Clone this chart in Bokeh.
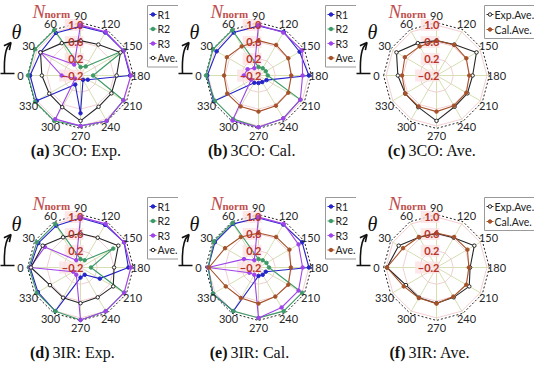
import math
from bokeh.plotting import figure
from bokeh.layouts import gridplot
from bokeh.models import Range1d, Arrow, OpenHead
from bokeh.core.properties import value
from bokeh.embed import file_html
from bokeh.resources import INLINE

# ---------------- data ----------------
angles = [0, 30, 60, 90, 120, 150, 180, 210, 240, 270, 300, 330]
radial_ticks = [-0.2, 0.2, 0.6, 1.0]
r_min = -0.2
r_outer = 1.06

# (a) 3CO experiment
co_exp_r1 = [1.00, 0.90, 0.97, 0.97, 0.98, 0.98, 0.98, 0.00, -0.08, 0.70, 0.05, 1.00]
co_exp_r2 = [1.05, 1.05, 1.05, 0.00, 0.05, 1.00, 0.10, 0.98, 1.05, 1.00, 1.05, 1.05]
co_exp_r3 = [0.25, 0.90, 0.10, 1.00, 1.00, 0.98, 1.00, 0.98, 1.05, 1.00, 1.00, -0.05]
co_exp_ave = [0.72, 0.90, 0.69, 0.63, 0.65, 0.90, 0.66, 0.65, 0.66, 0.88, 0.67, 0.66]
# (b) 3CO calculation
co_cal_r1 = [1.02, 0.95, 0.98, 0.98, 1.00, 0.93, 1.00, 0.02, -0.02, -0.02, 0.00, 1.03]
co_cal_r2 = [1.05, 1.05, 1.05, 0.00, 0.00, 0.00, 0.02, 0.95, 0.98, 1.03, 1.00, 1.00]
co_cal_r3 = [0.15, 0.10, 0.00, 1.00, 0.98, 1.00, 0.85, 0.95, 0.98, 1.03, 1.04, 0.00]
co_cal_ave = [0.62, 0.67, 0.60, 0.63, 0.64, 0.62, 0.58, 0.62, 0.63, 0.66, 0.65, 0.66]
# (d) 3IR experiment
ir_exp_r1 = [1.00, 0.96, 0.95, 0.98, 0.97, 1.00, 0.94, 0.33, 0.00, 0.04, 1.00, 0.97]
ir_exp_r2 = [1.03, 1.00, 1.00, 0.00, 0.00, 0.70, 0.05, 1.00, 1.00, 1.05, 1.00, 1.00]
ir_exp_r3 = [1.00, 0.78, 0.00, 1.00, 1.00, 1.00, 1.00, 1.00, 1.00, 1.05, 0.00, 0.00]
ir_exp_ave = [0.98, 0.84, 0.63, 0.61, 0.62, 0.84, 0.60, 0.70, 0.62, 0.65, 0.63, 0.64]
# (e) 3IR calculation
ir_cal_r1 = [1.00, 1.00, 1.00, 0.98, 0.98, 1.00, 1.00, 0.00, 0.00, 0.00, 1.00, 1.05]
ir_cal_r2 = [1.00, 1.03, 1.03, 0.00, 0.00, 0.02, 0.05, 1.00, 1.00, 1.00, 1.00, 1.05]
ir_cal_r3 = [1.00, 0.20, 0.00, 1.00, 1.00, 0.90, 0.85, 0.90, 0.90, 1.00, 0.00, 0.05]
ir_cal_ave = [0.98, 0.72, 0.64, 0.62, 0.64, 0.65, 0.57, 0.62, 0.60, 0.66, 0.64, 0.70]

# ---------------- style ----------------
K = 42.0  # pixels per radial unit
C_R1, C_R2, C_R3 = "#2424c8", "#3d9a66", "#a044ea"
C_EXP, C_CAL = "#262626", "#a5522a"
C_LAB = "#b8352a"
C_N = "#c0504d"
SANS = "Lato"
SERIF = "Liberation Serif"


def px(v):
    return v / K


def polar(vals, closed=True):
    xs, ys = [], []
    for v, t in zip(vals, angles):
        rho = v - r_min
        phi = math.radians(180 - t)
        xs.append(rho * math.cos(phi))
        ys.append(rho * math.sin(phi))
    if closed:
        xs.append(xs[0]); ys.append(ys[0])
    return xs, ys


def make_panel(height, top, series, legend_names, tag, caption, cap_dy):
    p = figure(width=178, height=height,
               x_range=Range1d(px(-80), px(98)),
               y_range=Range1d(px(-(height - top)), px(top)),
               output_backend="svg", toolbar_location=None,
               x_axis_location=None, y_axis_location=None, min_border=0)
    p.grid.visible = False
    p.outline_line_color = None
    p.background_fill_color = "white"

    # grid: spokes, rings, dashed outer
    for t in angles:
        phi = math.radians(180 - t)
        rr = r_outer - r_min
        p.line([0, rr * math.cos(phi)], [0, rr * math.sin(phi)],
               line_color="#d6dfb2", line_width=1)
    for tv in radial_ticks[1:]:
        xs, ys = polar([tv] * 12)
        p.line(xs, ys, line_color="#f2cfd2", line_width=1)
    xs, ys = polar([r_outer] * 12)
    p.line(xs, ys, line_color="#222222", line_width=1, line_dash="2 2")

    # label highlight boxes (under series)
    for tv in radial_ticks:
        lab = "%.1f" % tv
        w = 5.6 * len(lab) + 2
        p.rect(x=px(3 - w / 2), y=tv - r_min, width=px(w), height=px(12),
               fill_color="#fbe1e4", line_color=None, fill_alpha=0.8)

    # series
    for vals, color, filled in series:
        xs, ys = polar(vals)
        p.line(xs, ys, line_color=color, line_width=1.1)
        p.scatter(xs[:-1], ys[:-1], marker="circle", size=3.5,
                  line_color=color, fill_color=color if filled else "white",
                  line_width=1)

    # radial tick labels (on top)
    for tv in radial_ticks:
        lab = "%.1f" % tv
        p.text(x=[px(3)], y=[tv - r_min], text=[lab.replace("-", "\u2212")],
               text_align="right", text_baseline="middle",
               text_font=value(SANS), text_font_size="11px",
               text_font_style="bold", text_color=C_LAB)

    # angle labels
    for t in angles:
        phi = math.radians(180 - t)
        rr = px(60)
        p.text(x=[rr * math.cos(phi)], y=[rr * math.sin(phi)], text=[str(t)],
               text_align="center", text_baseline="middle",
               text_font=value(SANS), text_font_size="11px", text_color="#262626")

    # N_norm title
    p.text(x=[px(-48)], y=[px(64)], text=["N"], text_align="left",
           text_baseline="alphabetic", text_font=value(SERIF),
           text_font_size="19px", text_font_style="italic", text_color=C_N)
    p.text(x=[px(-36)], y=[px(62)], text=["norm"], text_align="left",
           text_baseline="alphabetic", text_font=value(SERIF),
           text_font_size="11px", text_font_style="bold", text_color=C_N)

    # theta direction symbol
    p.text(x=[px(-64)], y=[px(44)], text=["\u03b8"], text_align="center",
           text_baseline="middle", text_font=value(SERIF),
           text_font_size="20px", text_font_style="italic", text_color="#111111")
    p.line([px(-84), px(-66)], [px(2), px(2)], line_color="#111111", line_width=1.6)
    p.quadratic(x0=[px(-76)], y0=[px(2)], x1=[px(-70)], y1=[px(32)],
                cx=[px(-77)], cy=[px(27)], line_color="#111111", line_width=1.6)
    p.add_layout(Arrow(end=OpenHead(size=7, line_width=1.6, line_color="#111111"),
                       x_start=px(-71.5), y_start=px(30.5), x_end=px(-69.5), y_end=px(33),
                       line_color="#111111", line_width=1.6))

    # legend (manual)
    n = len(legend_names)
    if n == 4:
        bx0, bx1, by_top = 67, 98, 70
        gap = 14.5
    else:
        bx0, bx1, by_top = 48, 98, 70
        gap = 15
    y_first = by_top - 9
    by_bot = y_first - gap * (n - 1) - 9
    p.quad(left=px(bx0), right=px(bx1), top=px(by_top), bottom=px(by_bot),
           fill_color="white", line_color="#9a9a9a", line_width=1)
    for k, (name, (vals, color, filled)) in enumerate(zip(legend_names, series)):
        yy = px(y_first - gap * k)
        p.line([px(bx0 + 2), px(bx0 + 9)], [yy, yy], line_color=color, line_width=1.2)
        p.scatter([px(bx0 + 5.5)], [yy], marker="circle", size=3.5, line_color=color,
                  fill_color=color if filled else "white")
        p.text(x=[px(bx0 + 10)], y=[yy], text=[name], text_align="left",
               text_baseline="middle", text_font=value(SANS),
               text_font_size="10.5px", text_color="#222222")

    # caption
    p.text(x=[px(-31)], y=[px(cap_dy)], text=["(" + tag + ")"], text_align="right",
           text_baseline="middle", text_font=value(SERIF), text_font_size="16px",
           text_font_style="bold", text_color="#111111")
    p.text(x=[px(-28)], y=[px(cap_dy)], text=[caption], text_align="left",
           text_baseline="middle", text_font=value(SERIF), text_font_size="16px",
           text_color="#111111")
    return p


rnames = ["R1", "R2", "R3", "Ave."]
H1, T1 = 185, 75
H2, T2 = 182, 82

pa = make_panel(H1, T1, [(co_exp_r1, C_R1, True), (co_exp_r2, C_R2, True),
                         (co_exp_r3, C_R3, True), (co_exp_ave, C_EXP, False)],
                rnames, "a", "3CO: Exp.", -75)
pb = make_panel(H1, T1, [(co_cal_r1, C_R1, True), (co_cal_r2, C_R2, True),
                         (co_cal_r3, C_R3, True), (co_cal_ave, C_CAL, True)],
                rnames, "b", "3CO: Cal.", -75)
pc = make_panel(H1, T1, [(co_exp_ave, C_EXP, False), (co_cal_ave, C_CAL, True)],
                ["Exp.Ave.", "Cal.Ave."], "c", "3CO: Ave.", -75)
pd = make_panel(H2, T2, [(ir_exp_r1, C_R1, True), (ir_exp_r2, C_R2, True),
                         (ir_exp_r3, C_R3, True), (ir_exp_ave, C_EXP, False)],
                rnames, "d", "3IR: Exp.", -85)
pe = make_panel(H2, T2, [(ir_cal_r1, C_R1, True), (ir_cal_r2, C_R2, True),
                         (ir_cal_r3, C_R3, True), (ir_cal_ave, C_CAL, True)],
                rnames, "e", "3IR: Cal.", -85)
pf = make_panel(H2, T2, [(ir_exp_ave, C_EXP, False), (ir_cal_ave, C_CAL, True)],
                ["Exp.Ave.", "Cal.Ave."], "f", "3IR: Ave.", -85)

grid = gridplot([[pa, pb, pc], [pd, pe, pf]], toolbar_location=None)

open("out.html", "w").write(file_html(grid, INLINE))
